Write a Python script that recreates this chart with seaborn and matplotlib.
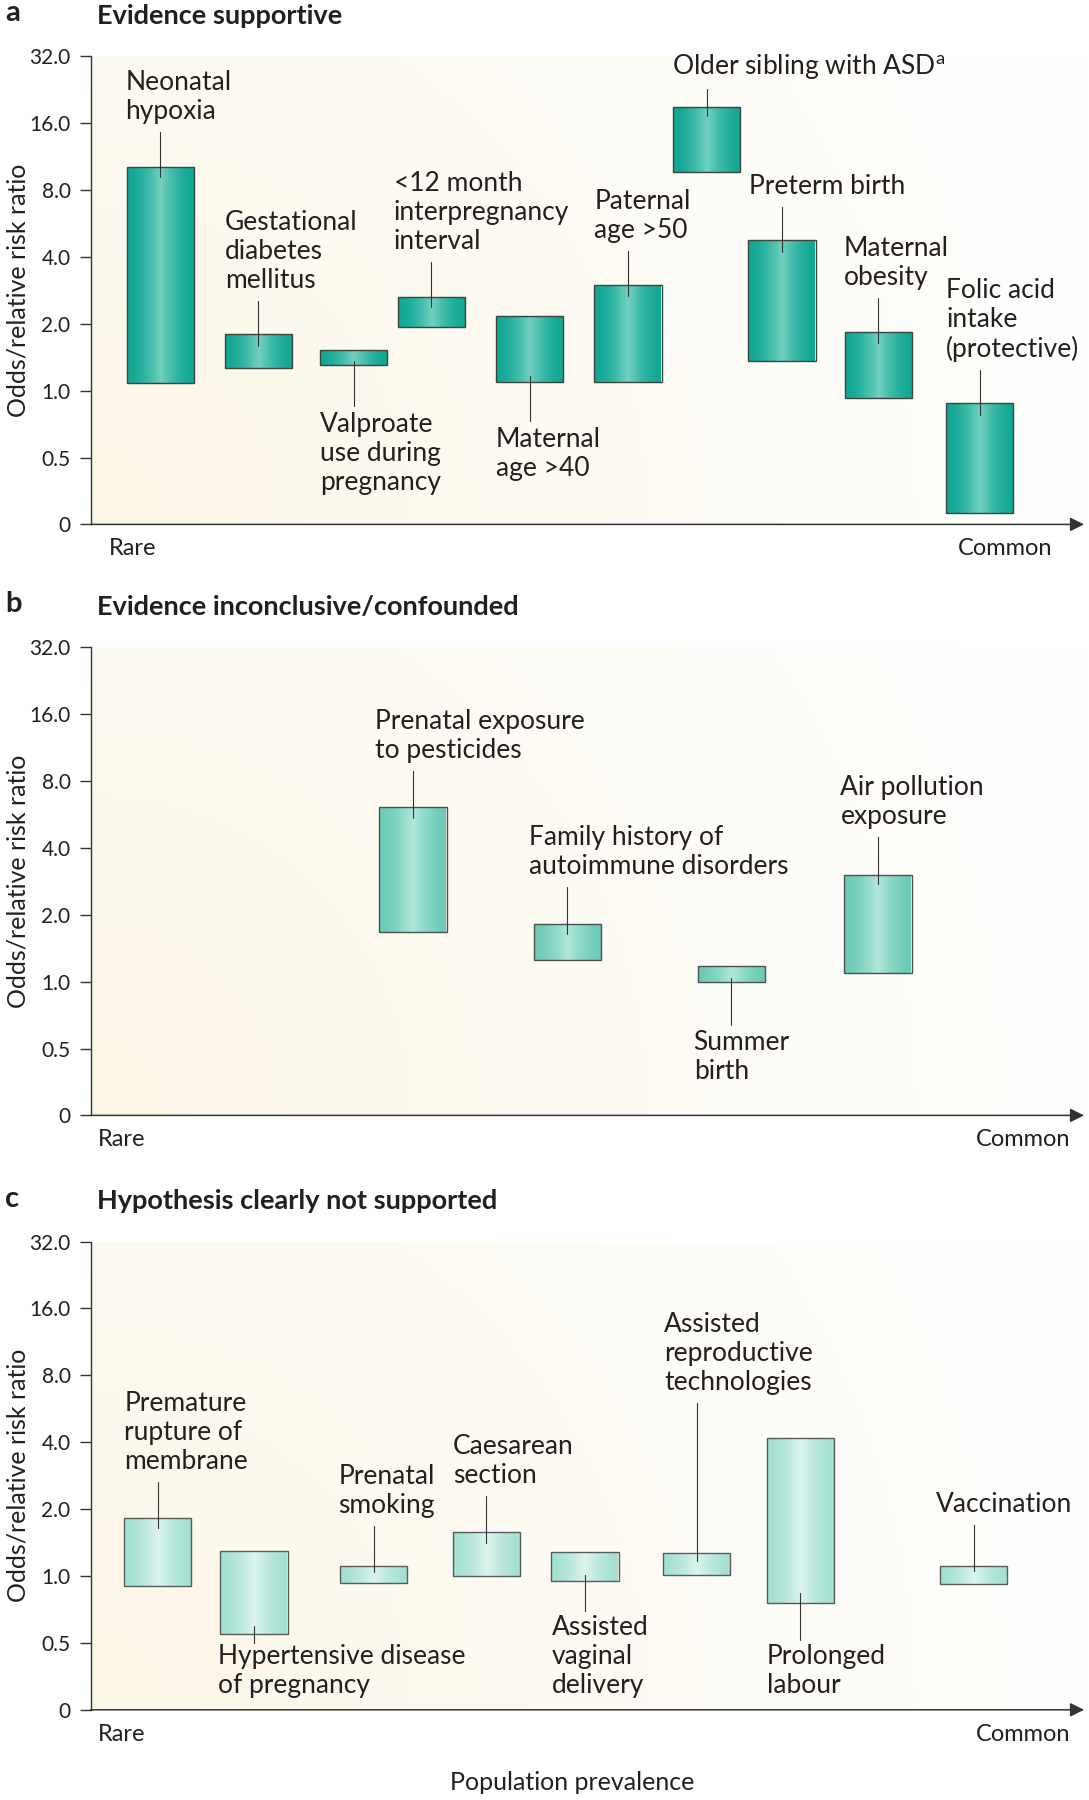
import numpy as np
import pandas as pd
import matplotlib
matplotlib.use("Agg")
import matplotlib.pyplot as plt
import seaborn as sns
from matplotlib.colors import to_rgb
from matplotlib.ticker import NullLocator

# ---------------- DATA ----------------
y_ticks = [0.25, 0.5, 1, 2, 4, 8, 16, 32]
y_tick_labels = ["0", "0.5", "1.0", "2.0", "4.0", "8.0", "16.0", "32.0"]

panel_letters = ["a", "b", "c"]
panel_titles = ["Evidence supportive",
                "Evidence inconclusive/confounded",
                "Hypothesis clearly not supported"]

# panel a
a_factors = ["Neonatal\nhypoxia", "Gestational\ndiabetes\nmellitus",
             "Valproate\nuse during\npregnancy", "<12 month\ninterpregnancy\ninterval",
             "Maternal\nage >40", "Paternal\nage >50",
             "Older sibling with ASD$^{\\mathrm{a}}$", "Preterm birth",
             "Maternal\nobesity", "Folic acid\nintake\n(protective)"]
a_prevalence = [7.0, 16.9, 26.5, 34.3, 44.2, 54.1, 62.0, 69.6, 79.3, 89.5]
a_low = [1.08, 1.26, 1.30, 1.93, 1.09, 1.09, 9.6, 1.36, 0.93, 0.28]
a_high = [10.1, 1.80, 1.53, 2.65, 2.16, 3.0, 19.0, 4.75, 1.84, 0.88]

# panel b
b_factors = ["Prenatal exposure\nto pesticides", "Family history of\nautoimmune disorders",
             "Summer\nbirth", "Air pollution\nexposure"]
b_prevalence = [32.45, 47.98, 64.49, 79.27]
b_low = [1.67, 1.25, 1.0, 1.09]
b_high = [6.1, 1.82, 1.17, 3.02]

# panel c
c_factors = ["Premature\nrupture of\nmembrane", "Hypertensive disease\nof pregnancy",
             "Prenatal\nsmoking", "Caesarean\nsection", "Assisted\nvaginal\ndelivery",
             "Assisted\nreproductive\ntechnologies", "Prolonged\nlabour", "Vaccination"]
c_prevalence = [6.76, 16.45, 28.52, 39.84, 49.77, 61.03, 71.42, 88.91]
c_low = [0.90, 0.55, 0.93, 1.0, 0.95, 1.01, 0.755, 0.92]
c_high = [1.82, 1.30, 1.115, 1.58, 1.28, 1.27, 4.17, 1.11]

# ---------------- LAYOUT / STYLE ----------------
DPI = 100
W, H = 1089, 1800
AX_LEFT, AX_RIGHT = 90.6, 1084.0
AX_TOPS = [56.2, 647.2, 1241.6]
AX_H = 468.2
BAR_W = 6.76
PT = 72.0 / DPI

# (side, line outside px, line inside px, text dx px, text gap px)
a_layout = [("up", 35, 10, -1, 8), ("up", 33, 12, 0, 8), ("down", 41, 4, 0, 6),
            ("up", 35, 10, -4, 8), ("down", 39, 6, 0, 6), ("up", 34, 11, 0, 8),
            ("up", 18, 9, -1, 8), ("up", 33, 12, 1, 8), ("up", 34, 11, -1, 8),
            ("up", 33, 12, 0, 8)]
b_layout = [("up", 36, 11, -4, 8), ("up", 37, 10, -5, 8), ("down", 43, 4, -4, 5),
            ("up", 38, 9, -4, 8)]
c_layout = [("up", 36, 10, 0, 8), ("down", 9.5, 8, -2, 1), ("up", 40, 6, -2, 8),
            ("up", 36, 11, 0, 8), ("down", 30, 6, 0, 4), ("up", 150, 8, 1, 8),
            ("down", 37, 10, 0, 4), ("up", 41, 5.5, -4, 8)]

bar_colors = [("#10a793", "#72d0c0", "#3b4442"),
              ("#6ccbb7", "#b2e7db", "#4a5250"),
              ("#a5e0d2", "#ddf4ee", "#555d5b")]
rare_x = [109, 97.5, 97.5]
common_right = [1052, 1070, 1070]

TXT = "#231f20"
AXC = "#333333"
LABEL_FS = 19
TICK_FS = 15

sns.set_theme(style="white")
plt.rcParams["font.family"] = ["Lato", "DejaVu Sans"]
plt.rcParams["mathtext.fontset"] = "custom"
plt.rcParams["mathtext.rm"] = "Lato"
plt.rcParams["mathtext.it"] = "Lato:italic"
plt.rcParams["mathtext.bf"] = "Lato:bold"
plt.rcParams["text.color"] = TXT

fig = plt.figure(figsize=(W / DPI, H / DPI), dpi=DPI)
fig.patch.set_facecolor("white")

# background radial gradient (faint cream at bottom-left -> white)
bw, bh = int(AX_RIGHT - AX_LEFT), int(AX_H)
gx, gy = np.meshgrid(np.arange(bw), np.arange(bh))
r = np.sqrt(gx ** 2 + gy ** 2) / 1200.0
wgt = np.clip(1 - r, 0, 1) ** 1.3
cream = np.array(to_rgb("#fcf6e6"))
bg_img = np.ones((bh, bw, 3)) * (1 - wgt[..., None]) + cream[None, None, :] * wgt[..., None]


def shift(ax, yval, dpx):
    d = ax.transData.transform((0, yval))
    return ax.transData.inverted().transform((d[0], d[1] + dpx))[1]


def draw_panel(i, factors, prev, low, high, layout):
    top = AX_TOPS[i]
    rect = [AX_LEFT / W, 1 - (top + AX_H) / H, (AX_RIGHT - AX_LEFT) / W, AX_H / H]
    bg = fig.add_axes(rect, zorder=0)
    bg.imshow(bg_img, extent=[0, 1, 0, 1], aspect="auto", origin="lower",
              interpolation="bilinear")
    bg.axis("off")

    ax = fig.add_axes(rect, zorder=1)
    ax.patch.set_alpha(0)
    edge_c, mid_c, outline = bar_colors[i]
    df = pd.DataFrame({"prevalence": prev,
                       "span": np.array(high) - np.array(low),
                       "low": low})
    native = np.min(np.diff(np.sort(prev)))
    sns.barplot(data=df, x="prevalence", y="span", native_scale=True,
                log_scale=(False, 2), width=BAR_W / native,
                bottom=df["low"].to_numpy(), color=edge_c, edgecolor=outline,
                linewidth=1.0, errorbar=None, ax=ax)

    # horizontal gradient inside each bar
    u = np.abs(np.linspace(-1, 1, 121))
    t = (1 - u) ** 1.6
    e, m = np.array(to_rgb(edge_c)), np.array(to_rgb(mid_c))
    grad = (e[None, :] * (1 - t[:, None]) + m[None, :] * t[:, None])[None, :, :]
    patches = list(ax.patches)
    for p in patches:
        x0, y0, w, h = p.get_x(), p.get_y(), p.get_width(), p.get_height()
        im = ax.imshow(grad, extent=[x0, x0 + w, y0, y0 + h], aspect="auto",
                       interpolation="bilinear", zorder=2)
        im.set_clip_path(p)
        p.set_facecolor("none")
        p.set_zorder(3)

    ax.set_xlim(0, 100)
    ax.set_ylim(0.25, 32)
    ax.set_yticks(y_ticks)
    ax.set_yticklabels(y_tick_labels)
    ax.yaxis.set_minor_locator(NullLocator())
    ax.set_xticks([])
    ax.set_xlabel("")
    ax.tick_params(axis="y", left=True, length=11 * PT, width=1.0, color=AXC,
                   pad=9 * PT, labelsize=TICK_FS, labelcolor=TXT)
    for s in ["top", "right", "bottom"]:
        ax.spines[s].set_visible(False)
    ax.spines["left"].set_color(AXC)
    ax.spines["left"].set_linewidth(1.0)
    ax.grid(False)

    ax.annotate("", xy=(1, 0), xycoords="axes fraction", xytext=(0, 0),
                textcoords="axes fraction",
                arrowprops=dict(arrowstyle="-|>,head_length=0.6,head_width=0.3",
                                color=AXC, lw=1.1, shrinkA=0, shrinkB=0,
                                mutation_scale=14))

    ax.set_ylabel("Odds/relative risk ratio", fontsize=18, color=TXT)
    ax.yaxis.set_label_coords((30 - AX_LEFT) / (AX_RIGHT - AX_LEFT), 0.5)

    # leader lines + labels
    for p, lab, (side, out_px, in_px, dx, gap) in zip(patches, factors, layout):
        xc = p.get_x() + p.get_width() / 2
        if side == "up":
            edge = p.get_y() + p.get_height()
            y_in, y_out = shift(ax, edge, -in_px), shift(ax, edge, out_px)
            ax.plot([xc, xc], [y_in, y_out], color=AXC, lw=0.8, zorder=4)
            ax.annotate(lab, xy=(p.get_x(), y_out), xytext=(dx * PT, gap * PT),
                        textcoords="offset points", ha="left", va="bottom",
                        fontsize=LABEL_FS, color=TXT)
        else:
            edge = p.get_y()
            y_in, y_out = shift(ax, edge, in_px), shift(ax, edge, -out_px)
            ax.plot([xc, xc], [y_in, y_out], color=AXC, lw=0.8, zorder=4)
            ax.annotate(lab, xy=(p.get_x(), y_out), xytext=(dx * PT, -gap * PT),
                        textcoords="offset points", ha="left", va="top",
                        fontsize=LABEL_FS, color=TXT)

    ax.annotate("Rare", xy=((rare_x[i] - AX_LEFT) / (AX_RIGHT - AX_LEFT), 0),
                xycoords="axes fraction", xytext=(0, -31 * PT),
                textcoords="offset points", ha="left", va="baseline",
                fontsize=17, color=TXT)
    ax.annotate("Common", xy=((common_right[i] - AX_LEFT) / (AX_RIGHT - AX_LEFT), 0),
                xycoords="axes fraction", xytext=(0, -31 * PT),
                textcoords="offset points", ha="right", va="baseline",
                fontsize=17, color=TXT)

    fig.text(5 / W, 1 - (top - 35) / H, panel_letters[i], fontsize=21,
             fontweight="bold", va="baseline", ha="left", color=TXT)
    fig.text(97 / W, 1 - (top - 32.5) / H, panel_titles[i], fontsize=19.5,
             fontweight="bold", va="baseline", ha="left", color=TXT)
    return ax


draw_panel(0, a_factors, a_prevalence, a_low, a_high, a_layout)
draw_panel(1, b_factors, b_prevalence, b_low, b_high, b_layout)
draw_panel(2, c_factors, c_prevalence, c_low, c_high, c_layout)

fig.text(572.6 / W, 1 - 1790 / H, "Population prevalence", fontsize=18,
         ha="center", va="baseline", color=TXT)

fig.savefig("out.png", dpi=DPI, facecolor="white")
